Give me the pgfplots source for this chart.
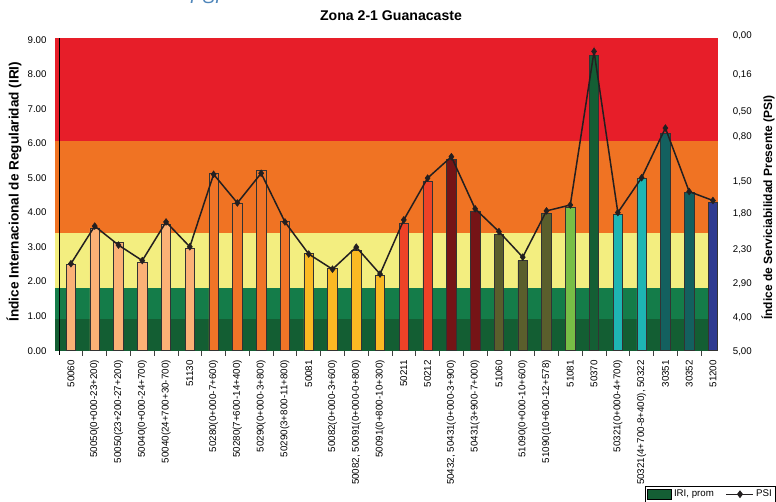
\documentclass[border=0pt]{standalone}
\usepackage{pgfplots}
\pgfplotsset{compat=1.18}
\usepackage{fontspec}
\setmainfont{Liberation Sans}
\definecolor{bred}{HTML}{E71E29}
\definecolor{borange}{HTML}{F07323}
\definecolor{byellow}{HTML}{F3EE80}
\definecolor{bgreen}{HTML}{147C49}
\definecolor{bdkgreen}{HTML}{135E33}
\definecolor{cpeach}{HTML}{FBB176}
\definecolor{corange}{HTML}{F07427}
\definecolor{camber}{HTML}{FBB923}
\definecolor{credor}{HTML}{EE4227}
\definecolor{cdkred}{HTML}{751416}
\definecolor{colive}{HTML}{5A5E2C}
\definecolor{clgreen}{HTML}{78BE46}
\definecolor{cdgreen}{HTML}{145E34}
\definecolor{cteal}{HTML}{1EB5B3}
\definecolor{cdteal}{HTML}{13605F}
\definecolor{cnavy}{HTML}{2E3A90}
\definecolor{psiblue}{HTML}{4F86BA}
\definecolor{lineblk}{HTML}{231F20}
\begin{document}
\begin{tikzpicture}[x=1pt,y=1pt]
\begin{axis}[
  at={(55pt,151.3pt)}, anchor=south west,
  scale only axis, width=662.7pt, height=312.4pt,
  xmin=-0.67, xmax=27.2, ymin=0, ymax=9.05,
  axis line style={draw=none},
  clip=false,
  tick align=inside,
  ytick={0,1,2,3,4,5,6,7,8,9},
  yticklabels={0.00,1.00,2.00,3.00,4.00,5.00,6.00,7.00,8.00,9.00},
  ytick pos=left,
  major tick length=6.7pt,
  ytick style={draw=black!75, line width=0.7pt},
  yticklabel style={inner sep=0pt, xshift=-8.3pt, font=\fontsize{9.7}{11}\selectfont},
  xtick={0,...,27},
  xtick style={draw=none},
  xticklabels={50060, 50050(0+000-23+200), 50050(23+200-27+200), 50040(0+000-24+700), 50040(24+700+30-700), 51130, 50280(0+000-7+600), 50280(7+600-14+400), 50290(0+000-3+800), 50290(3+800-11+800), 50081, 50082(0+000-3+600), {50082, 50091(0+000-0+800)}, 50091(0+800-10+300), 50211, 50212, {50432, 50431(0+000-3+900)}, 50431(3+900-7+000), 51060, 51090(0+000-10+600), 51090(10+600-12+578), 51081, 50370, 50321(0+000-4+700), {50321(4+700-8+400), 50322}, 30351, 30352, 51200},
  xticklabel style={yshift=-9.3pt, rotate=90, anchor=east, inner sep=0pt, font=\fontsize{9.8}{11}\selectfont},
  legend style={at={(axis description cs:0.8903,-0.4321)}, anchor=north west, draw=black, line width=0.8pt, fill=white, font=\fontsize{9.7}{11}\selectfont, inner sep=2pt},
  legend columns=2,
  legend cell align=left,
  /tikz/every even column/.append style={column sep=10pt},
]
% background bands
\addplot[draw=none, fill=bdkgreen, forget plot] coordinates {(-0.67,0) (27.2,0) (27.2,0.91) (-0.67,0.91)};
\addplot[draw=none, fill=bgreen, forget plot] coordinates {(-0.67,0.91) (27.2,0.91) (27.2,1.82) (-0.67,1.82)};
\addplot[draw=none, fill=byellow, forget plot] coordinates {(-0.67,1.82) (27.2,1.82) (27.2,3.40) (-0.67,3.40)};
\addplot[draw=none, fill=borange, forget plot] coordinates {(-0.67,3.40) (27.2,3.40) (27.2,6.08) (-0.67,6.08)};
\addplot[draw=none, fill=bred, forget plot] coordinates {(-0.67,6.08) (27.2,6.08) (27.2,9.05) (-0.67,9.05)};
% bars (IRI, prom)
\pgfplotsset{barsty/.style={ybar, bar width=9.5pt, bar shift=0pt, draw=black!80, line width=0.7pt, forget plot}}
\addplot[barsty, fill=cpeach] coordinates {(0,2.51) (1,3.55) (2,3.13) (3,2.56) (4,3.67) (5,2.97)};
\addplot[barsty, fill=corange] coordinates {(6,5.14) (7,4.28) (8,5.21) (9,3.76)};
\addplot[barsty, fill=camber] coordinates {(10,2.82) (11,2.39) (12,2.92) (13,2.17)};
\addplot[barsty, fill=credor] coordinates {(14,3.69) (15,4.92)};
\addplot[barsty, fill=cdkred] coordinates {(16,5.55) (17,4.05)};
\addplot[barsty, fill=colive] coordinates {(18,3.38) (19,2.61) (20,3.98)};
\addplot[barsty, fill=clgreen] coordinates {(21,4.16)};
\addplot[barsty, fill=cdgreen] coordinates {(22,8.57)};
\addplot[barsty, fill=cteal] coordinates {(23,3.95) (24,4.98)};
\addplot[barsty, fill=cdteal] coordinates {(25,6.30) (26,4.59)};
\addplot[barsty, fill=cnavy] coordinates {(27,4.30)};
% PSI line
\addplot[lineblk, line width=1.5pt, mark=diamond*, mark size=3.4pt, mark options={fill=lineblk, line width=0.5pt}, forget plot] coordinates {
(0,2.52) (1,3.61) (2,3.06) (3,2.61) (4,3.73) (5,3.01) (6,5.11) (7,4.28) (8,5.14) (9,3.73)
(10,2.80) (11,2.36) (12,3.00) (13,2.22) (14,3.79) (15,5.00) (16,5.62) (17,4.11) (18,3.45) (19,2.71)
(20,4.05) (21,4.22) (22,8.67) (23,4.00) (24,5.01) (25,6.45) (26,4.61) (27,4.35)};
% left axis line and category ticks
\draw[black, line width=0.9pt] (axis cs:-0.5,9.05) -- (axis cs:-0.5,0) -- ++(0pt,-4pt);
\pgfplotsinvokeforeach{0.5,1.5,...,26.5}{\draw[black!75, line width=0.7pt] (axis cs:#1,0) -- ++(0pt,-5pt);}
% legend
\addlegendimage{legend image code/.code={\draw[fill=cdgreen, draw=black, line width=0.6pt] (0pt,-5pt) rectangle (24pt,5pt);}}
\addlegendentry{IRI, prom}
\addlegendimage{legend image code/.code={\draw[lineblk, line width=1.2pt] (0pt,0pt) -- (27pt,0pt); \fill[lineblk] (13.5pt,3.3pt) -- (16pt,0pt) -- (13.5pt,-3.3pt) -- (11pt,0pt) -- cycle;}}
\addlegendentry{PSI}
\end{axis}
% right axis (PSI scale)
\begin{axis}[
  at={(55pt,144.4pt)}, anchor=south west,
  scale only axis, width=662.7pt, height=324.5pt,
  xmin=-0.67, xmax=27.2, ymin=-0.2, ymax=9.2,
  axis line style={draw=none},
  xtick=\empty,
  ytick pos=right,
  yticklabel pos=right,
  ytick={-0.03,0.96,1.95,2.92,3.96,4.88,6.19,6.91,7.99,9.13},
  yticklabels={{5,00},{4,00},{2,90},{2,30},{1,80},{1,50},{0,80},{0,50},{0,16},{0,00}},
  ytick style={draw=none},
  major tick length=0pt,
  yticklabel style={anchor=west, inner sep=0pt, xshift=15pt, font=\fontsize{9.7}{11}\selectfont},
]
\end{axis}
% texts
\node[font=\fontsize{14.1}{17}\selectfont\bfseries] at (391,486) {Zona 2-1 Guanacaste};
\node[rotate=90, font=\fontsize{13.6}{16}\selectfont\bfseries] at (14,310.3) {Índice Internacional de Regularidad (IRI)};
\node[rotate=90, font=\fontsize{12}{14}\selectfont\bfseries] at (768,294.5) {Índice de Serviciabilidad Presente (PSI)};
\node[anchor=base west, inner sep=0pt, text=psiblue, font=\fontsize{18.6}{20}\selectfont\itshape] at (190,498) {PSI};
\pgfresetboundingbox
\useasboundingbox (0,0) rectangle (776,502);
\end{tikzpicture}
\end{document}
